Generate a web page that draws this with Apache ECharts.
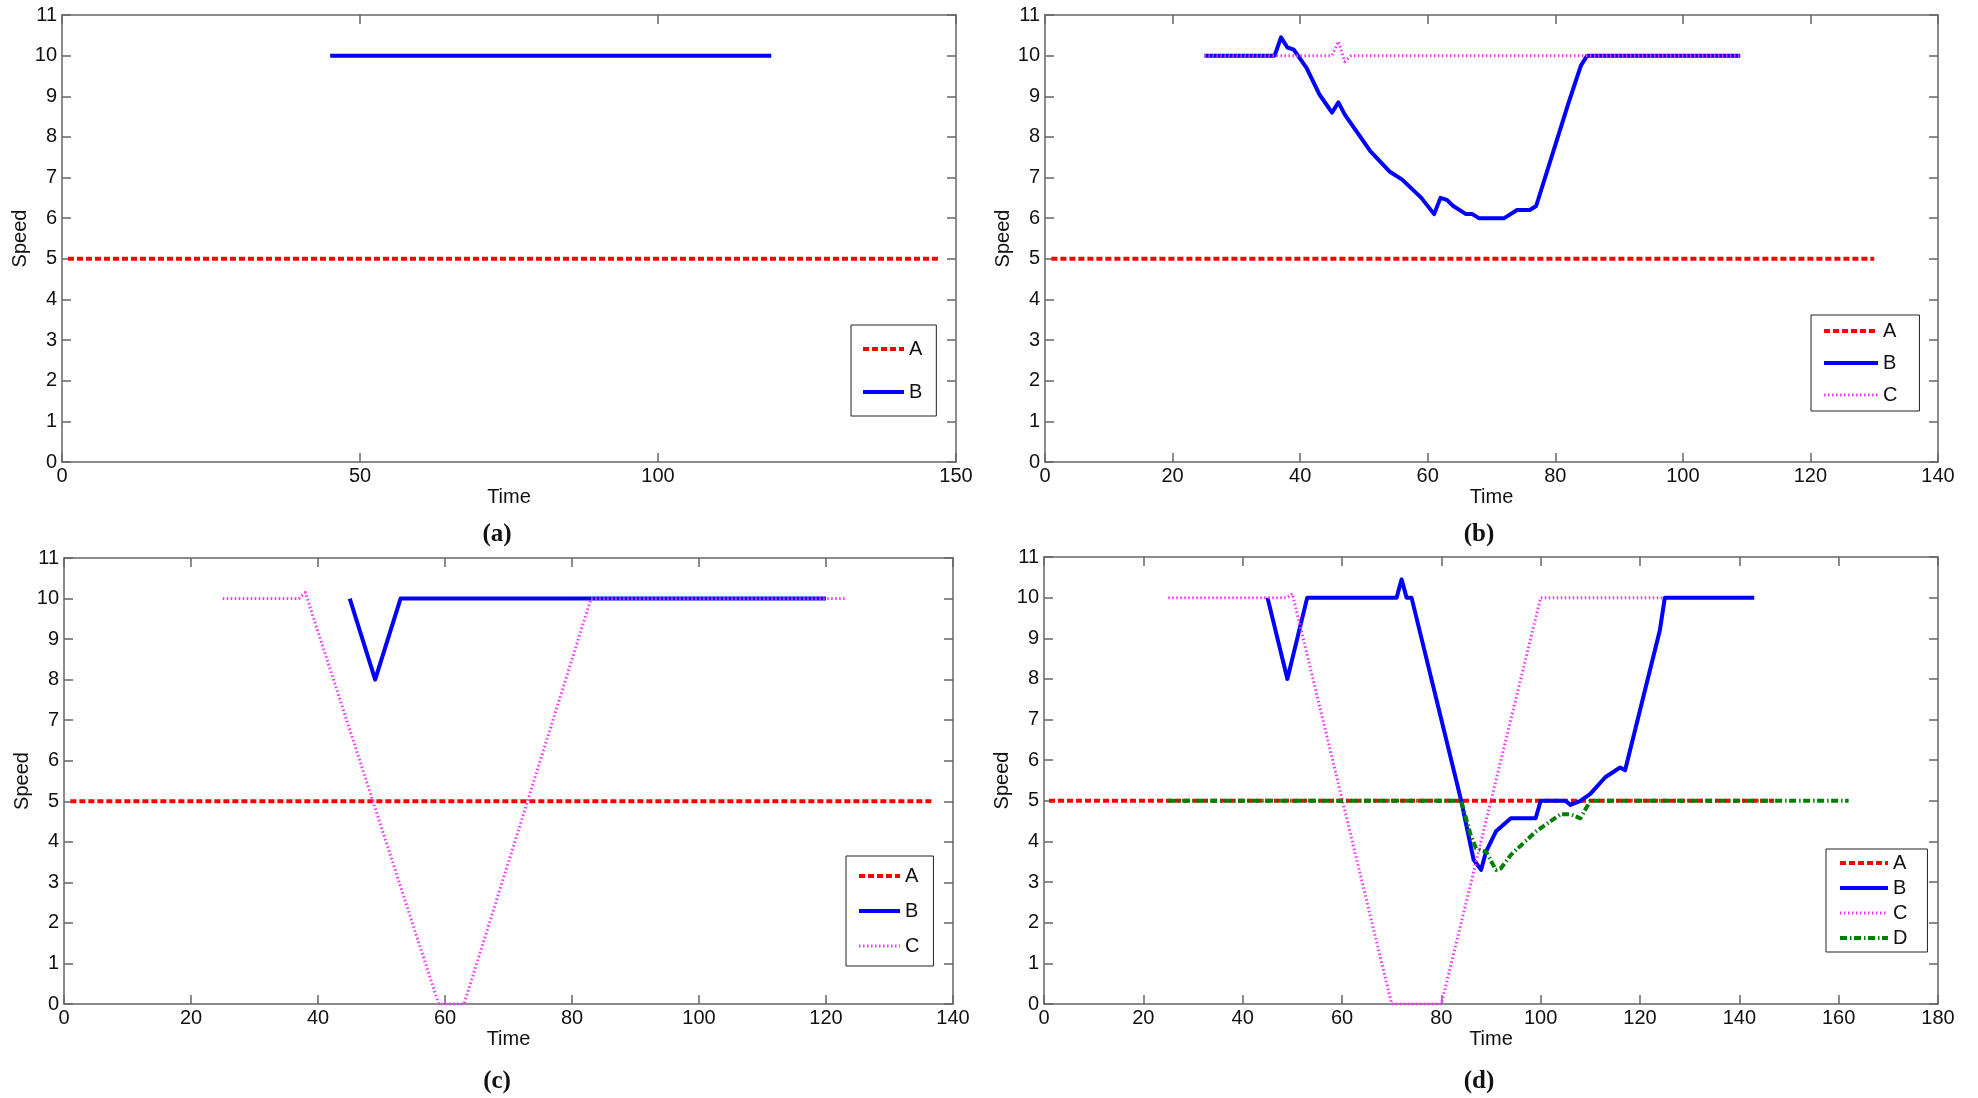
<!DOCTYPE html>
<html>
<head>
<meta charset="utf-8">
<script src="https://cdn.jsdelivr.net/npm/echarts@6/dist/echarts.min.js"></script>
<style>
html,body{margin:0;padding:0;background:#fff;}
#chart{width:1978px;height:1098px;}
</style>
</head>
<body>
<div id="chart"></div>
<script>
// ---------- data: [time, speed] ----------
// panel (a)
var aA = [[1,5],[147,5]];
var aB = [[45,10],[119,10]];
// panel (b)
var bA = [[1,5],[130,5]];
var bB = [[25,10],[36,10],[37,10.45],[38,10.2],[39,10.15],[41,9.7],[43,9.05],[45,8.6],[46,8.85],[47,8.55],[49,8.1],[51,7.65],[54,7.15],[56,6.95],[59,6.5],[61,6.1],[62,6.5],[63,6.45],[64,6.3],[66,6.1],[67,6.1],[68,6.0],[72,6.0],[74,6.2],[76,6.2],[77,6.3],[80,7.8],[82,8.8],[84,9.75],[85,10],[109,10]];
var bC = [[25,10],[45,10],[46,10.35],[47,9.85],[48,10],[109,10]];
// panel (c)
var cA = [[1,5],[137,5]];
var cB = [[45,10],[49,8],[53,10],[120,10]];
var cC = [[25,10],[37,10],[38,10.15],[59,0],[63,0],[83,10],[123,10]];
// panel (d)
var dA = [[1,5],[147,5]];
var dB = [[45,10],[49,8],[53,10],[71,10],[72,10.45],[73,10],[74,10],[84,5],[86.5,3.55],[88,3.3],[89,3.75],[91,4.25],[94,4.57],[99,4.57],[100,5],[105,5],[106,4.9],[108,5],[110,5.17],[113,5.58],[116,5.82],[117,5.75],[124,9.2],[125,10],[143,10]];
var dC = [[25,10],[49,10],[50,10.1],[70,0],[80,0],[100,10],[125,10]];
var dD = [[25,5],[84,5],[86,4.12],[87,3.83],[89,3.75],[91,3.3],[92,3.34],[94,3.67],[99,4.24],[104,4.67],[106,4.67],[108,4.57],[110,5],[162,5]];

var xMax = [150, 140, 140, 180];
var xStep = [50, 20, 20, 20];
var yMax = 11, yStep = 1;
var panelLabels = ['a','b','c','d'];
var seriesNames = ['A','B','C','D'];

// ---------- layout ----------
var grids = [
  {left:62,  top:15,  width:894, height:447},
  {left:1045,top:15,  width:893, height:447},
  {left:64,  top:558, width:889, height:446},
  {left:1044,top:557, width:894, height:447}
];
var panelData = [[aA,aB],[bA,bB,bC],[cA,cB,cC],[dA,dB,dC,dD]];

var styles = {
  A:{color:'#ff0000', width:4, type:[6,3]},
  B:{color:'#0000ff', width:4, type:'solid'},
  C:{color:'#ff33ff', width:3, type:[1.5,2.5]},
  D:{color:'#008000', width:4, type:[7,3,1.5,2.5]}
};

var legends = [
  {left:851, top:325, pad:[14,14,14,10], iw:41, gap:23},
  {left:1811,top:315, pad:[6,22,6,11], iw:54, gap:12},
  {left:846, top:856, pad:[10,14,10,11], iw:41, gap:15},
  {left:1826,top:849, pad:[4,20,4,12], iw:48, gap:5}
];
var captionPos = [[492,517],[1474,517],[492,1064],[1474,1064]];

var axisColor = '#666';
var font = 'Liberation Sans, Arial, sans-serif';

var option = {
  animation:false,
  backgroundColor:'#fff',
  grid:[], xAxis:[], yAxis:[], series:[], legend:[], title:[]
};

for (var p=0;p<4;p++){
  option.grid.push(Object.assign({containLabel:false}, grids[p]));
  option.xAxis.push({
    type:'value', gridIndex:p, min:0, max:xMax[p], interval:xStep[p], position:'bottom',
    name:'Time', nameLocation:'middle', nameGap:25,
    nameTextStyle:{fontFamily:font, fontSize:20, color:'#111'},
    axisLine:{show:true, onZero:false, lineStyle:{color:axisColor, width:1.5}},
    axisTick:{show:true, inside:true, length:9, lineStyle:{color:axisColor, width:1.5}},
    axisLabel:{fontFamily:font, fontSize:20, color:'#111', margin:4},
    splitLine:{show:false}
  });
  option.xAxis.push({
    type:'value', gridIndex:p, min:0, max:xMax[p], interval:xStep[p], position:'top',
    axisLine:{show:true, onZero:false, lineStyle:{color:axisColor, width:1.5}},
    axisTick:{show:true, inside:true, length:9, lineStyle:{color:axisColor, width:1.5}},
    axisLabel:{show:false}, splitLine:{show:false}
  });
  option.yAxis.push({
    type:'value', gridIndex:p, min:0, max:yMax, interval:yStep, position:'left',
    name:'Speed', nameLocation:'middle', nameGap:30, nameRotate:90,
    nameTextStyle:{fontFamily:font, fontSize:20, color:'#111'},
    axisLine:{show:true, onZero:false, lineStyle:{color:axisColor, width:1.5}},
    axisTick:{show:true, inside:true, length:9, lineStyle:{color:axisColor, width:1.5}},
    axisLabel:{fontFamily:font, fontSize:20, color:'#111', margin:5},
    splitLine:{show:false}
  });
  option.yAxis.push({
    type:'value', gridIndex:p, min:0, max:yMax, interval:yStep, position:'right',
    axisLine:{show:true, onZero:false, lineStyle:{color:axisColor, width:1.5}},
    axisTick:{show:true, inside:true, length:9, lineStyle:{color:axisColor, width:1.5}},
    axisLabel:{show:false}, splitLine:{show:false}
  });
  var legendItems = [];
  for (var s=0;s<panelData[p].length;s++){
    var nm = seriesNames[s];
    var st = styles[nm];
    legendItems.push({name:nm,
      itemStyle:{color:'rgba(0,0,0,0)', borderColor:'rgba(0,0,0,0)', borderWidth:0},
      lineStyle:{color:st.color, width:st.width, type:st.type, cap:'butt'}});
    option.series.push({
      type:'line', name:nm, xAxisIndex:p*2, yAxisIndex:p*2,
      data:panelData[p][s], symbol:'none', showSymbol:false, clip:true,
      lineStyle:{color:st.color, width:st.width, type:st.type, cap:'butt', join:'round'},
      itemStyle:{color:st.color},
      z:2+s
    });
  }
  var lg = legends[p];
  option.legend.push({
    show:true, orient:'vertical', left:lg.left, top:lg.top, padding:lg.pad,
    itemWidth:lg.iw, itemHeight:14, itemGap:lg.gap,
    backgroundColor:'#fff', borderColor:'#222', borderWidth:1, borderRadius:0,
    selectedMode:false,
    textStyle:{fontFamily:font, fontSize:20, color:'#111', lineHeight:20},
    data:legendItems
  });
  option.title.push({
    text:'{p|(}{b|'+panelLabels[p]+'}{p|)}',
    left:captionPos[p][0], top:captionPos[p][1], textAlign:'center',
    textStyle:{rich:{
      p:{fontFamily:'Liberation Serif, Times New Roman, serif', fontSize:25, color:'#111'},
      b:{fontFamily:'Liberation Serif, Times New Roman, serif', fontSize:25, fontWeight:'bold', color:'#111'}
    }}
  });
}

var chart = echarts.init(document.getElementById('chart'), null, {renderer:'canvas'});
chart.setOption(option);
</script>
</body>
</html>
